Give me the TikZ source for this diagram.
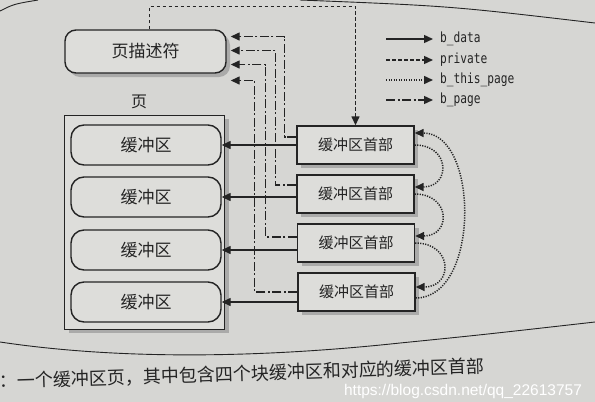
\documentclass[tikz,border=0pt]{standalone}
\usepackage{fontspec}
\setmainfont{Liberation Sans}
\newfontfamily\cjkfont{Noto Sans CJK SC}
\newfontfamily\legendfont[FakeStretch=0.8]{DejaVu Sans Mono}
\usetikzlibrary{shapes, arrows.meta, shadows}

\definecolor{paper}{RGB}{214,214,211}
\definecolor{boxfill}{RGB}{221,221,218}
\definecolor{ink}{RGB}{36,36,36}

\tikzset{
  boxshadow/.style={drop shadow={shadow xshift=4pt, shadow yshift=-4pt, opacity=0.5}},
  descbox/.style={draw=ink, line width=1.4pt, fill=boxfill, rounded corners=11pt,
    minimum width=161pt, minimum height=43pt, boxshadow,
    font=\cjkfont\fontsize{17}{17}\selectfont, text=ink},
  pagebox/.style={draw=ink, line width=0.9pt, fill=boxfill,
    minimum width=160pt, minimum height=214pt, boxshadow},
  bufbox/.style={draw=ink, line width=1.4pt, fill=boxfill, rounded corners=13pt,
    minimum width=150pt, minimum height=40pt,
    font=\cjkfont\fontsize{17}{17}\selectfont, text=ink},
  hdrbox/.style={draw=ink, line width=1.4pt, fill=boxfill,
    minimum width=117pt, minimum height=38pt, boxshadow,
    font=\cjkfont\fontsize{15}{15}\selectfont, text=ink},
  legendtext/.style={font=\legendfont\fontsize{14}{14}\selectfont, text=ink,
    anchor=west, inner xsep=7pt, text height=9pt, text depth=3pt},
  dataline/.style={->, draw=ink, line width=1.4pt},
  privline/.style={->, draw=ink, line width=1.4pt, dash pattern=on 3.5pt off 2.5pt},
  thisline/.style={->, draw=ink, line width=1.5pt, dash pattern=on 1.2pt off 1.3pt},
  pageline/.style={->, draw=ink, line width=1.4pt, dash pattern=on 9pt off 2.5pt on 2pt off 2.5pt},
  frameline/.style={draw=ink, line width=0.9pt}
}

\begin{document}
\begin{tikzpicture}[x=1pt, y=-1pt, >={Triangle[length=9pt,width=8pt]}]
\useasboundingbox (0,0) rectangle (595,402);
\fill[paper] (0,0) rectangle (595,402);

% book frame lines
\draw[frameline] (0,11) .. controls (14,4) .. (38,0);
\draw[frameline] (300,0) .. controls (450,6) .. (595,23);
\draw[frameline] (0,342) .. controls (120,360) and (260,358) .. (400,343)
    .. controls (480,335) .. (595,322);

\node [descbox] (desc) at (145.5,51.5) {页描述符};
\node [font=\cjkfont\fontsize{16}{16}\selectfont, text=ink] (pagelabel) at (139,102) {页};
\node [pagebox] (page) at (144.5,222) {};

\node [bufbox] (buf1) at (146,145) {缓冲区};
\node [bufbox] (buf2) at (146,197) {缓冲区};
\node [bufbox] (buf3) at (146,250) {缓冲区};
\node [bufbox] (buf4) at (146,302) {缓冲区};

\node [hdrbox] (hdr1) at (355.5,145) {缓冲区首部};
\node [hdrbox] (hdr2) at (355.5,194) {缓冲区首部};
\node [hdrbox] (hdr3) at (356,243) {缓冲区首部};
\node [hdrbox] (hdr4) at (356.5,292) {缓冲区首部};

% b_data
\draw [dataline] (hdr1.west |- buf1.east) -- (buf1.east);
\draw [dataline] (hdr2.west |- buf2.east) -- (buf2.east);
\draw [dataline] (hdr3.west |- buf3.east) -- (buf3.east);
\draw [dataline] (hdr4.west |- buf4.east) -- (buf4.east);

% private
\draw [privline] ([xshift=4pt]desc.north) -- ++(0,-23) -| (hdr1.north);

% b_page
\draw [pageline] ([yshift=8pt]hdr1.west) -| ([xshift=58pt,yshift=15pt]desc.east)
    -- ([xshift=4pt,yshift=15pt]desc.east);
\draw [pageline] ([yshift=9pt]hdr2.west) -| ([xshift=49pt,yshift=1pt]desc.east)
    -- ([xshift=4pt,yshift=1pt]desc.east);
\draw [pageline] ([yshift=6pt]hdr3.west) -| ([xshift=39pt,yshift=-13pt]desc.east)
    -- ([xshift=4pt,yshift=-13pt]desc.east);
\draw [pageline] (hdr4.west) -| ([xshift=28pt,yshift=-29pt]desc.east)
    -- ([xshift=4pt,yshift=-29pt]desc.east);

% b_this_page
\draw [thisline] (hdr1.east) to[out=0, in=0, looseness=2.2] ([yshift=7pt]hdr2.east);
\draw [thisline] (hdr2.east) to[out=0, in=0, looseness=2.2] ([yshift=7pt]hdr3.east);
\draw [thisline] (hdr3.east) to[out=0, in=0, looseness=2.2] ([yshift=5pt]hdr4.east);
\draw [thisline] ([yshift=-6pt]hdr4.east) to[out=0, in=0] ([yshift=12pt]hdr1.east);

% legend
\coordinate (key1) at (386,39);
\coordinate (key2) at (386,60);
\coordinate (key3) at (386,80);
\coordinate (key4) at (386,100);
\node [legendtext] (leg1) at (433,39) {b\_data};
\node [legendtext] (leg2) at (433,60) {private};
\node [legendtext] (leg3) at (433,80) {b\_this\_page};
\node [legendtext] (leg4) at (433,100) {b\_page};
\draw [dataline] (key1) -- (leg1);
\draw [privline] (key2) -- (leg2);
\draw [thisline] (key3) -- (leg3);
\draw [pageline] (key4) -- (leg4);

% caption and watermark
\node [anchor=base west, inner sep=0pt, rotate=1.8, text=ink,
    font=\cjkfont\fontsize{18}{18}\selectfont] (caption) at (-1,388)
    {：一个缓冲区页，其中包含四个块缓冲区和对应的缓冲区首部};
\node [text=white, font=\fontsize{15.5}{15.5}\selectfont] (wmark) at (463,391)
    {https://blog.csdn.net/qq\_22613757};
\end{tikzpicture}
\end{document}
